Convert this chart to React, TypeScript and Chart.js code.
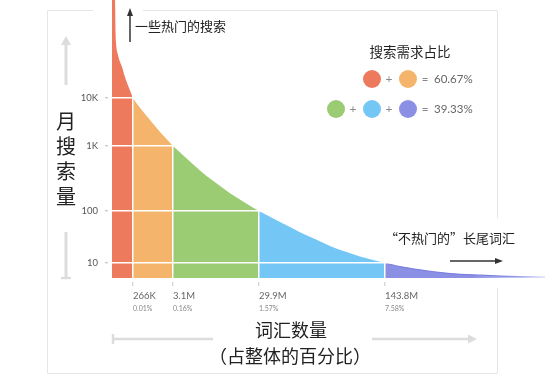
import React, { useEffect, useRef } from 'react';
import { Chart, registerables } from 'chart.js';

Chart.register(...registerables);

// Curve. x: share of the horizontal axis (0–100),
// y: display height on the illustrative volume axis (0–100).
const curveX = [0, 0.69, 0.81, 0.92, 1.39, 2.31, 3.23, 4.85, 6.47, 8.78, 11.09, 14.09, 16.86, 20.32, 23.79, 27.25, 30.72, 33.95, 38.8, 43.42, 46.88, 50.35, 53.81, 57.27, 60.28, 63.05, 66.51, 71.13, 78.06, 84.99, 91.92, 100];
const curveY = [100, 100, 89.2, 84.9, 80.2, 75.9, 71.2, 64.7, 61.2, 56.8, 52.5, 47.5, 43.5, 38.7, 34.4, 30.5, 27.1, 24.1, 20.1, 16.5, 14.0, 11.5, 9.5, 7.7, 6.5, 5.4, 4.1, 2.9, 1.6, 1.0, 0.6, 0.4];

// Region boundaries (x ticks) and their labels
const xBoundaries = [4.85, 14.09, 33.95, 63.05];
const xTickLabels = ['266K', '3.1M', '29.9M', '143.8M'];
const xTickPct = ['0.01%', '0.16%', '1.57%', '7.58%'];

// Y ticks (illustrative monthly search volume levels)
const yTickValues = [5.4, 24.1, 47.5, 64.7];
const yTickLabels = ['10', '100', '1K', '10K'];

const regionColors = ['#EE7A5E', '#F4B46B', '#9BCB73', '#74C7F5', '#8C90E5'];

const legendRow1 = ['60.67%'];
const legendRow2 = ['39.33%'];

const CJK = '"Noto Sans CJK SC", sans-serif';
const LATIN = 'Lato, "Noto Sans", sans-serif';

function regionData(i: number) {
  const lo = i === 0 ? 0 : xBoundaries[i - 1];
  const hi = i === xBoundaries.length ? 100 : xBoundaries[i];
  const pts: { x: number; y: number }[] = [];
  curveX.forEach((x, k) => {
    if (x >= lo - 1e-9 && x <= hi + 1e-9) pts.push({ x, y: curveY[k] });
  });
  return pts;
}

const overlayPlugin = {
  id: 'overlay',
  afterDraw(chart: any) {
    const ctx: CanvasRenderingContext2D = chart.ctx;
    const xs = chart.scales.x;
    ctx.save();

    const seg = (x1: number, y1: number, x2: number, y2: number) => {
      ctx.beginPath();
      ctx.moveTo(x1, y1);
      ctx.lineTo(x2, y2);
      ctx.stroke();
    };

    // frame
    ctx.strokeStyle = '#e6e6e6';
    ctx.lineWidth = 1;
    seg(47.5, 10.5, 47.5, 373.5);
    seg(47.5, 10.5, 93, 10.5);
    seg(143, 10.5, 497.5, 10.5);
    seg(497.5, 10.5, 497.5, 218);
    seg(497.5, 288, 497.5, 373.5);
    seg(47.5, 373.5, 497.5, 373.5);

    // x tick percentage lines
    ctx.font = `7px ${LATIN}`;
    ctx.fillStyle = '#888';
    ctx.textAlign = 'left';
    ctx.textBaseline = 'middle';
    xBoundaries.forEach((v, i) => {
      ctx.fillText(xTickPct[i], xs.getPixelForValue(v), 308.5);
    });

    // grey axis arrows
    ctx.strokeStyle = '#dcdcdc';
    ctx.fillStyle = '#dcdcdc';
    ctx.lineWidth = 3;
    ctx.lineCap = 'butt';
    seg(66, 85, 66, 44);
    ctx.beginPath();
    ctx.moveTo(66, 36);
    ctx.lineTo(61, 45);
    ctx.lineTo(71, 45);
    ctx.closePath();
    ctx.fill();
    seg(66, 232, 66, 278);
    ctx.lineWidth = 2.5;
    seg(61, 278, 71, 278);
    seg(113, 339, 213, 339);
    seg(113, 334, 113, 344);
    seg(372, 339, 470, 339);
    ctx.beginPath();
    ctx.moveTo(477, 339);
    ctx.lineTo(468, 334.5);
    ctx.lineTo(468, 343.5);
    ctx.closePath();
    ctx.fill();

    // Y title (vertical)
    ctx.fillStyle = '#222';
    ctx.font = `20px ${CJK}`;
    ctx.textAlign = 'center';
    ctx.textBaseline = 'middle';
    ['月', '搜', '索', '量'].forEach((c, i) => ctx.fillText(c, 66, 121 + i * 25.3));

    // X title
    ctx.font = `18px ${CJK}`;
    ctx.fillText('词汇数量', 291, 330);
    ctx.fillText('（占整体的百分比）', 290, 356);

    // annotation: hot searches
    ctx.strokeStyle = '#333';
    ctx.fillStyle = '#333';
    ctx.lineWidth = 1.5;
    seg(130, 42, 130, 15);
    ctx.beginPath();
    ctx.moveTo(130, 8);
    ctx.lineTo(127, 16);
    ctx.lineTo(133, 16);
    ctx.closePath();
    ctx.fill();
    ctx.fillStyle = '#222';
    ctx.font = `13px ${CJK}`;
    ctx.textAlign = 'left';
    ctx.fillText('一些热门的搜索', 135, 26);

    // annotation: long tail
    ctx.font = `13px ${CJK}`;
    ctx.fillText('“不热门的”长尾词汇', 385, 238);
    ctx.strokeStyle = '#333';
    ctx.fillStyle = '#333';
    seg(450, 261, 496, 261);
    ctx.beginPath();
    ctx.moveTo(503, 261);
    ctx.lineTo(495, 258);
    ctx.lineTo(495, 264);
    ctx.closePath();
    ctx.fill();

    // legend
    ctx.fillStyle = '#222';
    ctx.font = `13.5px ${CJK}`;
    ctx.textAlign = 'center';
    ctx.fillText('搜索需求占比', 410, 52);

    const circle = (x: number, y: number, c: string) => {
      ctx.fillStyle = c;
      ctx.beginPath();
      ctx.arc(x, y, 9, 0, Math.PI * 2);
      ctx.fill();
    };
    const plus = (x: number, y: number) => {
      ctx.fillStyle = '#8a8a8a';
      ctx.font = `12px ${LATIN}`;
      ctx.textAlign = 'center';
      ctx.fillText('+', x, y);
    };
    const eq = (y: number, txt: string) => {
      ctx.fillStyle = '#888';
      ctx.font = `11.5px ${LATIN}`;
      ctx.textAlign = 'center';
      ctx.fillText('=', 425, y);
      ctx.fillStyle = '#666';
      ctx.font = `11.5px ${LATIN}`;
      ctx.textAlign = 'left';
      ctx.fillText(txt, 434, y);
    };
    circle(372, 79, regionColors[0]);
    plus(389, 79);
    circle(408, 79, regionColors[1]);
    eq(79, legendRow1[0]);

    circle(336, 109, regionColors[2]);
    plus(353, 109);
    circle(372, 109, regionColors[3]);
    plus(389, 109);
    circle(408, 109, regionColors[4]);
    eq(109, legendRow2[0]);

    ctx.restore();
  },
};

export default function App() {
  const ref = useRef<HTMLCanvasElement>(null);

  useEffect(() => {
    const canvas = ref.current;
    if (!canvas) return;

    const datasets = regionColors.map((color, i) => {
      const isTail = i === regionColors.length - 1;
      return {
        data: regionData(i),
        fill: 'origin',
        backgroundColor: isTail
          ? (c: any) => {
              const ch = c.chart;
              const ca = ch.chartArea;
              if (!ca) return color;
              const x0 = ch.scales.x.getPixelForValue(xBoundaries[3]);
              const g = ch.ctx.createLinearGradient(x0, 0, ca.right, 0);
              g.addColorStop(0, color);
              g.addColorStop(0.55, color);
              g.addColorStop(1, 'rgba(140,144,229,0.15)');
              return g;
            }
          : color,
        borderColor: isTail
          ? (c: any) => {
              const ch = c.chart;
              const ca = ch.chartArea;
              if (!ca) return '#7c80de';
              const x0 = ch.scales.x.getPixelForValue(xBoundaries[3]);
              const g = ch.ctx.createLinearGradient(x0, 0, ca.right, 0);
              g.addColorStop(0, '#7c80de');
              g.addColorStop(0.7, '#7c80de');
              g.addColorStop(1, 'rgba(124,128,222,0.2)');
              return g;
            }
          : color,
        borderWidth: isTail ? 1.2 : 0,
        pointRadius: 0,
        cubicInterpolationMode: 'monotone',
      };
    });

    const chart = new Chart(canvas, {
      type: 'line',
      data: { datasets: datasets as any },
      options: {
        responsive: false,
        animation: false,
        devicePixelRatio: 1,
        layout: { padding: { left: 0, right: 5, top: 0, bottom: 0 } },
        plugins: { legend: { display: false }, tooltip: { enabled: false } },
        scales: {
          x: {
            type: 'linear',
            min: 0,
            max: 100,
            afterBuildTicks: (s: any) => {
              s.ticks = xBoundaries.map((v) => ({ value: v }));
            },
            afterFit: (s: any) => {
              s.height = 102;
              s.paddingLeft = 0;
              s.paddingRight = 0;
            },
            grid: {
              z: 1,
              color: '#ffffff',
              lineWidth: 1.5,
              tickLength: 8,
              tickColor: '#c8c8c8',
              tickWidth: 1,
              tickBorderDash: [0, 4, 4, 50],
            } as any,
            border: { display: false },
            ticks: {
              z: 1,
              align: 'start',
              padding: 4,
              autoSkip: false,
              maxRotation: 0,
              color: '#666',
              font: { family: LATIN, size: 9.5 },
              callback: (_v: any, i: number) => xTickLabels[i],
            },
          },
          y: {
            type: 'linear',
            min: 0,
            max: 100,
            afterBuildTicks: (s: any) => {
              s.ticks = yTickValues.map((v) => ({ value: v }));
            },
            afterFit: (s: any) => {
              s.width = 112;
              s.paddingTop = 0;
              s.paddingBottom = 0;
            },
            grid: {
              z: 1,
              color: '#ffffff',
              lineWidth: 1.5,
              tickLength: 7,
              tickColor: '#b8b8b8',
              tickWidth: 1,
              tickBorderDash: [3, 10],
            } as any,
            border: { display: false },
            ticks: {
              z: 1,
              padding: 7,
              color: '#555',
              font: { family: LATIN, size: 9.5 },
              callback: (_v: any, i: number) => yTickLabels[i],
            },
          },
        },
      },
      plugins: [overlayPlugin],
    });

    return () => chart.destroy();
  }, []);

  return (
    <div style={{ position: 'absolute', left: 0, top: 0, width: 550, height: 380, background: '#fff' }}>
      <canvas ref={ref} width={550} height={380} style={{ display: 'block' }} />
    </div>
  );
}
